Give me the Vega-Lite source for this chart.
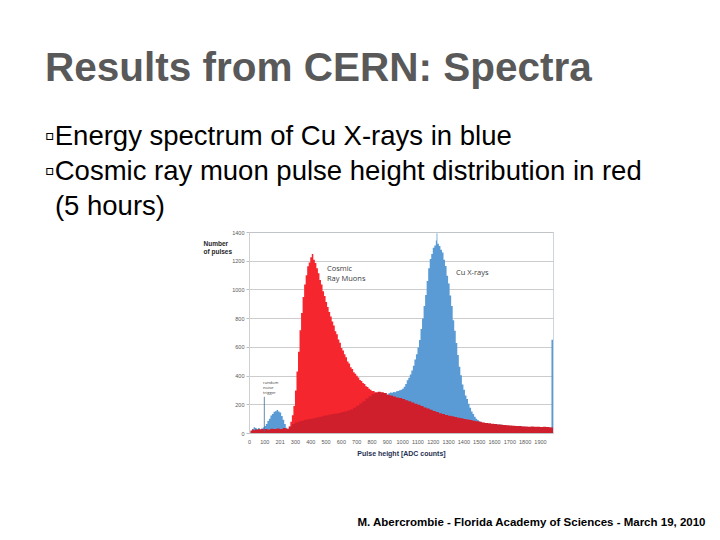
{
  "$schema": "https://vega.github.io/schema/vega-lite/v6.json",
  "width": 304,
  "height": 201,
  "autosize": {"type": "none"},
  "padding": {"left": 249, "top": 232, "right": 167, "bottom": 107},
  "background": "white",
  "config": {
    "view": {"stroke": "#c9d6e3", "strokeWidth": 1},
    "font": "Liberation Sans"
  },
  "title": {
    "text": "Results from CERN: Spectra",
    "subtitle": ["▫Energy spectrum of Cu X-rays in blue", "▫Cosmic ray muon pulse height distribution in red", "\u200b\u00a0\u200a(5 hours)"],
    "anchor": "start",
    "frame": "group",
    "dx": -204,
    "offset": 10,
    "font": "Liberation Sans",
    "fontSize": 40.5,
    "fontWeight": "bold",
    "color": "#595959",
    "subtitleFont": "Liberation Sans",
    "subtitleFontSize": 27.5,
    "subtitleColor": "#000000",
    "subtitleLineHeight": 35,
    "subtitlePadding": 33
  },
  "datasets": {
    "spectra": [
      {"series": "Cu X-rays", "adc": 0, "count": 0},
      {"series": "Cu X-rays", "adc": 10, "count": 12},
      {"series": "Cu X-rays", "adc": 20, "count": 28},
      {"series": "Cu X-rays", "adc": 30, "count": 40},
      {"series": "Cu X-rays", "adc": 40, "count": 35},
      {"series": "Cu X-rays", "adc": 50, "count": 28},
      {"series": "Cu X-rays", "adc": 60, "count": 34},
      {"series": "Cu X-rays", "adc": 70, "count": 26},
      {"series": "Cu X-rays", "adc": 80, "count": 30},
      {"series": "Cu X-rays", "adc": 90, "count": 38},
      {"series": "Cu X-rays", "adc": 100, "count": 48},
      {"series": "Cu X-rays", "adc": 110, "count": 62},
      {"series": "Cu X-rays", "adc": 120, "count": 84},
      {"series": "Cu X-rays", "adc": 130, "count": 100},
      {"series": "Cu X-rays", "adc": 140, "count": 122},
      {"series": "Cu X-rays", "adc": 150, "count": 132},
      {"series": "Cu X-rays", "adc": 160, "count": 148},
      {"series": "Cu X-rays", "adc": 170, "count": 152},
      {"series": "Cu X-rays", "adc": 180, "count": 160},
      {"series": "Cu X-rays", "adc": 190, "count": 150},
      {"series": "Cu X-rays", "adc": 200, "count": 142},
      {"series": "Cu X-rays", "adc": 210, "count": 118},
      {"series": "Cu X-rays", "adc": 220, "count": 92},
      {"series": "Cu X-rays", "adc": 230, "count": 62},
      {"series": "Cu X-rays", "adc": 240, "count": 36},
      {"series": "Cu X-rays", "adc": 250, "count": 20},
      {"series": "Cu X-rays", "adc": 260, "count": 12},
      {"series": "Cu X-rays", "adc": 280, "count": 8},
      {"series": "Cu X-rays", "adc": 400, "count": 8},
      {"series": "Cu X-rays", "adc": 600, "count": 10},
      {"series": "Cu X-rays", "adc": 800, "count": 230},
      {"series": "Cu X-rays", "adc": 850, "count": 250},
      {"series": "Cu X-rays", "adc": 900, "count": 268},
      {"series": "Cu X-rays", "adc": 910, "count": 276},
      {"series": "Cu X-rays", "adc": 920, "count": 282},
      {"series": "Cu X-rays", "adc": 930, "count": 280},
      {"series": "Cu X-rays", "adc": 940, "count": 286},
      {"series": "Cu X-rays", "adc": 950, "count": 284},
      {"series": "Cu X-rays", "adc": 960, "count": 290},
      {"series": "Cu X-rays", "adc": 970, "count": 292},
      {"series": "Cu X-rays", "adc": 980, "count": 298},
      {"series": "Cu X-rays", "adc": 990, "count": 302},
      {"series": "Cu X-rays", "adc": 1000, "count": 308},
      {"series": "Cu X-rays", "adc": 1010, "count": 322},
      {"series": "Cu X-rays", "adc": 1020, "count": 342},
      {"series": "Cu X-rays", "adc": 1030, "count": 368},
      {"series": "Cu X-rays", "adc": 1040, "count": 384},
      {"series": "Cu X-rays", "adc": 1050, "count": 408},
      {"series": "Cu X-rays", "adc": 1060, "count": 436},
      {"series": "Cu X-rays", "adc": 1070, "count": 468},
      {"series": "Cu X-rays", "adc": 1080, "count": 512},
      {"series": "Cu X-rays", "adc": 1090, "count": 548},
      {"series": "Cu X-rays", "adc": 1100, "count": 596},
      {"series": "Cu X-rays", "adc": 1110, "count": 648},
      {"series": "Cu X-rays", "adc": 1120, "count": 724},
      {"series": "Cu X-rays", "adc": 1130, "count": 798},
      {"series": "Cu X-rays", "adc": 1140, "count": 884},
      {"series": "Cu X-rays", "adc": 1150, "count": 962},
      {"series": "Cu X-rays", "adc": 1160, "count": 1058},
      {"series": "Cu X-rays", "adc": 1170, "count": 1148},
      {"series": "Cu X-rays", "adc": 1180, "count": 1212},
      {"series": "Cu X-rays", "adc": 1190, "count": 1246},
      {"series": "Cu X-rays", "adc": 1200, "count": 1290},
      {"series": "Cu X-rays", "adc": 1210, "count": 1306},
      {"series": "Cu X-rays", "adc": 1220, "count": 1340},
      {"series": "Cu X-rays", "adc": 1225, "count": 1392},
      {"series": "Cu X-rays", "adc": 1230, "count": 1318},
      {"series": "Cu X-rays", "adc": 1240, "count": 1302},
      {"series": "Cu X-rays", "adc": 1250, "count": 1276},
      {"series": "Cu X-rays", "adc": 1260, "count": 1258},
      {"series": "Cu X-rays", "adc": 1270, "count": 1206},
      {"series": "Cu X-rays", "adc": 1280, "count": 1164},
      {"series": "Cu X-rays", "adc": 1290, "count": 1096},
      {"series": "Cu X-rays", "adc": 1300, "count": 1042},
      {"series": "Cu X-rays", "adc": 1310, "count": 958},
      {"series": "Cu X-rays", "adc": 1320, "count": 884},
      {"series": "Cu X-rays", "adc": 1330, "count": 786},
      {"series": "Cu X-rays", "adc": 1340, "count": 712},
      {"series": "Cu X-rays", "adc": 1350, "count": 626},
      {"series": "Cu X-rays", "adc": 1360, "count": 544},
      {"series": "Cu X-rays", "adc": 1370, "count": 462},
      {"series": "Cu X-rays", "adc": 1380, "count": 402},
      {"series": "Cu X-rays", "adc": 1390, "count": 338},
      {"series": "Cu X-rays", "adc": 1400, "count": 302},
      {"series": "Cu X-rays", "adc": 1410, "count": 262},
      {"series": "Cu X-rays", "adc": 1420, "count": 236},
      {"series": "Cu X-rays", "adc": 1430, "count": 204},
      {"series": "Cu X-rays", "adc": 1440, "count": 176},
      {"series": "Cu X-rays", "adc": 1450, "count": 150},
      {"series": "Cu X-rays", "adc": 1460, "count": 132},
      {"series": "Cu X-rays", "adc": 1470, "count": 114},
      {"series": "Cu X-rays", "adc": 1480, "count": 100},
      {"series": "Cu X-rays", "adc": 1490, "count": 90},
      {"series": "Cu X-rays", "adc": 1500, "count": 82},
      {"series": "Cu X-rays", "adc": 1510, "count": 76},
      {"series": "Cu X-rays", "adc": 1520, "count": 72},
      {"series": "Cu X-rays", "adc": 1530, "count": 66},
      {"series": "Cu X-rays", "adc": 1550, "count": 60},
      {"series": "Cu X-rays", "adc": 1650, "count": 45},
      {"series": "Cu X-rays", "adc": 1800, "count": 35},
      {"series": "Cu X-rays", "adc": 1975, "count": 650},
      {"series": "Cu X-rays", "adc": 1985, "count": 650},

      {"series": "Cosmic Ray Muons", "adc": 240, "count": 0},
      {"series": "Cosmic Ray Muons", "adc": 250, "count": 22},
      {"series": "Cosmic Ray Muons", "adc": 260, "count": 44},
      {"series": "Cosmic Ray Muons", "adc": 270, "count": 78},
      {"series": "Cosmic Ray Muons", "adc": 280, "count": 124},
      {"series": "Cosmic Ray Muons", "adc": 290, "count": 188},
      {"series": "Cosmic Ray Muons", "adc": 300, "count": 296},
      {"series": "Cosmic Ray Muons", "adc": 310, "count": 428},
      {"series": "Cosmic Ray Muons", "adc": 320, "count": 566},
      {"series": "Cosmic Ray Muons", "adc": 330, "count": 716},
      {"series": "Cosmic Ray Muons", "adc": 340, "count": 836},
      {"series": "Cosmic Ray Muons", "adc": 350, "count": 948},
      {"series": "Cosmic Ray Muons", "adc": 360, "count": 1034},
      {"series": "Cosmic Ray Muons", "adc": 370, "count": 1098},
      {"series": "Cosmic Ray Muons", "adc": 380, "count": 1162},
      {"series": "Cosmic Ray Muons", "adc": 390, "count": 1188},
      {"series": "Cosmic Ray Muons", "adc": 400, "count": 1224},
      {"series": "Cosmic Ray Muons", "adc": 410, "count": 1246},
      {"series": "Cosmic Ray Muons", "adc": 420, "count": 1206},
      {"series": "Cosmic Ray Muons", "adc": 430, "count": 1184},
      {"series": "Cosmic Ray Muons", "adc": 440, "count": 1148},
      {"series": "Cosmic Ray Muons", "adc": 450, "count": 1112},
      {"series": "Cosmic Ray Muons", "adc": 460, "count": 1066},
      {"series": "Cosmic Ray Muons", "adc": 470, "count": 1034},
      {"series": "Cosmic Ray Muons", "adc": 480, "count": 988},
      {"series": "Cosmic Ray Muons", "adc": 490, "count": 954},
      {"series": "Cosmic Ray Muons", "adc": 500, "count": 912},
      {"series": "Cosmic Ray Muons", "adc": 510, "count": 878},
      {"series": "Cosmic Ray Muons", "adc": 520, "count": 842},
      {"series": "Cosmic Ray Muons", "adc": 530, "count": 812},
      {"series": "Cosmic Ray Muons", "adc": 540, "count": 776},
      {"series": "Cosmic Ray Muons", "adc": 550, "count": 748},
      {"series": "Cosmic Ray Muons", "adc": 560, "count": 708},
      {"series": "Cosmic Ray Muons", "adc": 570, "count": 688},
      {"series": "Cosmic Ray Muons", "adc": 580, "count": 652},
      {"series": "Cosmic Ray Muons", "adc": 590, "count": 628},
      {"series": "Cosmic Ray Muons", "adc": 600, "count": 592},
      {"series": "Cosmic Ray Muons", "adc": 610, "count": 574},
      {"series": "Cosmic Ray Muons", "adc": 620, "count": 548},
      {"series": "Cosmic Ray Muons", "adc": 630, "count": 528},
      {"series": "Cosmic Ray Muons", "adc": 640, "count": 498},
      {"series": "Cosmic Ray Muons", "adc": 650, "count": 484},
      {"series": "Cosmic Ray Muons", "adc": 660, "count": 458},
      {"series": "Cosmic Ray Muons", "adc": 670, "count": 446},
      {"series": "Cosmic Ray Muons", "adc": 680, "count": 424},
      {"series": "Cosmic Ray Muons", "adc": 690, "count": 412},
      {"series": "Cosmic Ray Muons", "adc": 700, "count": 398},
      {"series": "Cosmic Ray Muons", "adc": 710, "count": 386},
      {"series": "Cosmic Ray Muons", "adc": 720, "count": 370},
      {"series": "Cosmic Ray Muons", "adc": 730, "count": 362},
      {"series": "Cosmic Ray Muons", "adc": 740, "count": 348},
      {"series": "Cosmic Ray Muons", "adc": 750, "count": 342},
      {"series": "Cosmic Ray Muons", "adc": 760, "count": 326},
      {"series": "Cosmic Ray Muons", "adc": 770, "count": 320},
      {"series": "Cosmic Ray Muons", "adc": 780, "count": 308},
      {"series": "Cosmic Ray Muons", "adc": 790, "count": 302},
      {"series": "Cosmic Ray Muons", "adc": 800, "count": 292},
      {"series": "Cosmic Ray Muons", "adc": 820, "count": 282},
      {"series": "Cosmic Ray Muons", "adc": 840, "count": 274},
      {"series": "Cosmic Ray Muons", "adc": 860, "count": 266},
      {"series": "Cosmic Ray Muons", "adc": 880, "count": 256},
      {"series": "Cosmic Ray Muons", "adc": 900, "count": 0},

      {"series": "Muon background", "adc": 0, "count": 0},
      {"series": "Muon background", "adc": 10, "count": 18},
      {"series": "Muon background", "adc": 20, "count": 24},
      {"series": "Muon background", "adc": 30, "count": 20},
      {"series": "Muon background", "adc": 40, "count": 26},
      {"series": "Muon background", "adc": 50, "count": 22},
      {"series": "Muon background", "adc": 60, "count": 28},
      {"series": "Muon background", "adc": 70, "count": 24},
      {"series": "Muon background", "adc": 80, "count": 30},
      {"series": "Muon background", "adc": 90, "count": 26},
      {"series": "Muon background", "adc": 100, "count": 28},
      {"series": "Muon background", "adc": 120, "count": 25},
      {"series": "Muon background", "adc": 140, "count": 30},
      {"series": "Muon background", "adc": 160, "count": 27},
      {"series": "Muon background", "adc": 180, "count": 32},
      {"series": "Muon background", "adc": 200, "count": 28},
      {"series": "Muon background", "adc": 220, "count": 34},
      {"series": "Muon background", "adc": 240, "count": 30},
      {"series": "Muon background", "adc": 260, "count": 45},
      {"series": "Muon background", "adc": 280, "count": 62},
      {"series": "Muon background", "adc": 300, "count": 74},
      {"series": "Muon background", "adc": 320, "count": 80},
      {"series": "Muon background", "adc": 340, "count": 86},
      {"series": "Muon background", "adc": 360, "count": 92},
      {"series": "Muon background", "adc": 380, "count": 96},
      {"series": "Muon background", "adc": 400, "count": 100},
      {"series": "Muon background", "adc": 420, "count": 104},
      {"series": "Muon background", "adc": 440, "count": 110},
      {"series": "Muon background", "adc": 460, "count": 114},
      {"series": "Muon background", "adc": 480, "count": 120},
      {"series": "Muon background", "adc": 500, "count": 124},
      {"series": "Muon background", "adc": 520, "count": 128},
      {"series": "Muon background", "adc": 540, "count": 132},
      {"series": "Muon background", "adc": 560, "count": 136},
      {"series": "Muon background", "adc": 580, "count": 140},
      {"series": "Muon background", "adc": 600, "count": 146},
      {"series": "Muon background", "adc": 620, "count": 150},
      {"series": "Muon background", "adc": 640, "count": 156},
      {"series": "Muon background", "adc": 660, "count": 164},
      {"series": "Muon background", "adc": 680, "count": 176},
      {"series": "Muon background", "adc": 700, "count": 190},
      {"series": "Muon background", "adc": 720, "count": 206},
      {"series": "Muon background", "adc": 740, "count": 222},
      {"series": "Muon background", "adc": 760, "count": 240},
      {"series": "Muon background", "adc": 780, "count": 256},
      {"series": "Muon background", "adc": 800, "count": 270},
      {"series": "Muon background", "adc": 820, "count": 282},
      {"series": "Muon background", "adc": 840, "count": 288},
      {"series": "Muon background", "adc": 860, "count": 284},
      {"series": "Muon background", "adc": 880, "count": 278},
      {"series": "Muon background", "adc": 900, "count": 266},
      {"series": "Muon background", "adc": 920, "count": 262},
      {"series": "Muon background", "adc": 940, "count": 254},
      {"series": "Muon background", "adc": 960, "count": 248},
      {"series": "Muon background", "adc": 980, "count": 244},
      {"series": "Muon background", "adc": 1000, "count": 236},
      {"series": "Muon background", "adc": 1020, "count": 228},
      {"series": "Muon background", "adc": 1040, "count": 222},
      {"series": "Muon background", "adc": 1060, "count": 212},
      {"series": "Muon background", "adc": 1080, "count": 204},
      {"series": "Muon background", "adc": 1100, "count": 196},
      {"series": "Muon background", "adc": 1120, "count": 188},
      {"series": "Muon background", "adc": 1140, "count": 178},
      {"series": "Muon background", "adc": 1160, "count": 170},
      {"series": "Muon background", "adc": 1180, "count": 162},
      {"series": "Muon background", "adc": 1200, "count": 154},
      {"series": "Muon background", "adc": 1220, "count": 146},
      {"series": "Muon background", "adc": 1240, "count": 138},
      {"series": "Muon background", "adc": 1260, "count": 132},
      {"series": "Muon background", "adc": 1280, "count": 126},
      {"series": "Muon background", "adc": 1300, "count": 120},
      {"series": "Muon background", "adc": 1320, "count": 116},
      {"series": "Muon background", "adc": 1340, "count": 112},
      {"series": "Muon background", "adc": 1360, "count": 106},
      {"series": "Muon background", "adc": 1380, "count": 102},
      {"series": "Muon background", "adc": 1400, "count": 98},
      {"series": "Muon background", "adc": 1420, "count": 94},
      {"series": "Muon background", "adc": 1440, "count": 90},
      {"series": "Muon background", "adc": 1460, "count": 86},
      {"series": "Muon background", "adc": 1480, "count": 82},
      {"series": "Muon background", "adc": 1500, "count": 78},
      {"series": "Muon background", "adc": 1520, "count": 74},
      {"series": "Muon background", "adc": 1540, "count": 70},
      {"series": "Muon background", "adc": 1560, "count": 68},
      {"series": "Muon background", "adc": 1580, "count": 64},
      {"series": "Muon background", "adc": 1600, "count": 62},
      {"series": "Muon background", "adc": 1620, "count": 60},
      {"series": "Muon background", "adc": 1640, "count": 58},
      {"series": "Muon background", "adc": 1660, "count": 56},
      {"series": "Muon background", "adc": 1680, "count": 54},
      {"series": "Muon background", "adc": 1700, "count": 52},
      {"series": "Muon background", "adc": 1720, "count": 50},
      {"series": "Muon background", "adc": 1740, "count": 48},
      {"series": "Muon background", "adc": 1760, "count": 48},
      {"series": "Muon background", "adc": 1780, "count": 46},
      {"series": "Muon background", "adc": 1800, "count": 46},
      {"series": "Muon background", "adc": 1820, "count": 44},
      {"series": "Muon background", "adc": 1840, "count": 45},
      {"series": "Muon background", "adc": 1860, "count": 43},
      {"series": "Muon background", "adc": 1880, "count": 44},
      {"series": "Muon background", "adc": 1900, "count": 42},
      {"series": "Muon background", "adc": 1920, "count": 43},
      {"series": "Muon background", "adc": 1940, "count": 41},
      {"series": "Muon background", "adc": 1960, "count": 40},
      {"series": "Muon background", "adc": 1975, "count": 38},
      {"series": "Muon background", "adc": 1985, "count": 0}
    ],
    "labels": [
      {"kind": "big", "text": "Cosmic\nRay Muons", "adc": 509, "count": 1142},
      {"kind": "big", "text": "Cu X-rays", "adc": 1351, "count": 1111},
      {"kind": "small", "text": "random\nnoise\ntrigger", "adc": 91, "count": 348}
    ],
    "pointer": [
      {"adc": 100, "count": 10, "count2": 252}
    ],
    "footer": [
      {"v": 0}
    ]
  },
  "layer": [
    {
      "encoding": {
        "x": {"field": "adc", "type": "quantitative", "scale": {"domain": [0, 1985], "nice": false},
          "axis": {"values": [0,100,200,300,400,500,600,700,800,900,1000,1100,1200,1300,1400,1500,1600,1700,1800,1900],
            "labelExpr": "datum.value === 200 ? '201' : format(datum.value, 'd')",
            "ticks": false, "domain": false, "grid": false,
            "labelFontSize": 5.5, "labelColor": "#595959", "labelPadding": 6, "labelFlush": false, "labelOverlap": false,
            "title": "Pulse height [ADC counts]", "titleFontSize": 7, "titleFontWeight": "bold", "titleColor": "#1f3050", "titlePadding": 5}},
        "y": {"field": "count", "type": "quantitative", "scale": {"domain": [0, 1400], "nice": false},
          "axis": {"values": [0,200,400,600,800,1000,1200,1400], "format": "d",
            "grid": true, "gridColor": "#bfbfbf", "gridWidth": 0.8,
            "domain": true, "domainColor": "#d0d0d0", "ticks": true, "tickSize": 3, "tickColor": "#bfbfbf",
            "labelFontSize": 5.5, "labelColor": "#595959", "labelPadding": 2, "labelOverlap": false,
            "title": ["Number", "of pulses"], "titleAngle": 0, "titleAlign": "left", "titleBaseline": "top",
            "titleX": -46, "titleY": 8, "titleFontSize": 6.5, "titleFontWeight": "bold", "titleColor": "#262626", "titleLineHeight": 8}}
      },
      "layer": [
        {
          "data": {"name": "spectra"},
          "transform": [{"filter": "datum.series === 'Cu X-rays'"}],
          "mark": {"type": "area", "interpolate": "step-after"},
          "encoding": {
            "color": {"field": "series", "type": "nominal", "legend": null,
              "scale": {"domain": ["Cu X-rays", "Cosmic Ray Muons", "Muon background"], "range": ["#5b9bd5", "#f5262d", "#d01f2c"]}}
          }
        },
        {
          "data": {"name": "spectra"},
          "transform": [{"filter": "datum.series === 'Cosmic Ray Muons'"}],
          "mark": {"type": "area", "interpolate": "step-after"},
          "encoding": {
            "color": {"field": "series", "type": "nominal", "legend": null}
          }
        },
        {
          "data": {"name": "spectra"},
          "transform": [{"filter": "datum.series === 'Muon background'"}],
          "mark": {"type": "area", "interpolate": "step-after"},
          "encoding": {
            "color": {"field": "series", "type": "nominal", "legend": null}
          }
        },
        {
          "data": {"name": "pointer"},
          "mark": {"type": "rule", "color": "#3f6f96", "strokeWidth": 0.8},
          "encoding": {
            "y2": {"field": "count2"}
          }
        },
        {
          "data": {"name": "labels"},
          "transform": [{"filter": "datum.kind === 'big'"}],
          "mark": {"type": "text", "align": "left", "baseline": "middle", "fontSize": 7.5, "lineHeight": 10, "color": "#404040", "font": "Open Sans", "lineBreak": "\n"},
          "encoding": {
            "text": {"field": "text"}
          }
        },
        {
          "data": {"name": "labels"},
          "transform": [{"filter": "datum.kind === 'small'"}],
          "mark": {"type": "text", "align": "left", "baseline": "middle", "fontSize": 4.2, "lineHeight": 5, "color": "#404040", "font": "Open Sans", "lineBreak": "\n"},
          "encoding": {
            "text": {"field": "text"}
          }
        }
      ]
    },
    {
      "data": {"name": "footer"},
      "mark": {"type": "rule", "opacity": 0},
      "encoding": {
        "y": {"field": "v", "type": "quantitative",
          "axis": {"orient": "right", "labels": false, "ticks": false, "domain": false, "grid": false,
            "title": "M. Abercrombie - Florida Academy of Sciences - March 19, 2010",
            "titleAngle": 0, "titleAlign": "right", "titleBaseline": "middle", "titleX": 152, "titleY": 290,
            "titleFontSize": 11.5, "titleFontWeight": "bold", "titleColor": "#000000", "titleFont": "Liberation Sans", "titleLimit": 1000}}
      }
    }
  ],
  "resolve": {"scale": {"y": "independent"}}
}
